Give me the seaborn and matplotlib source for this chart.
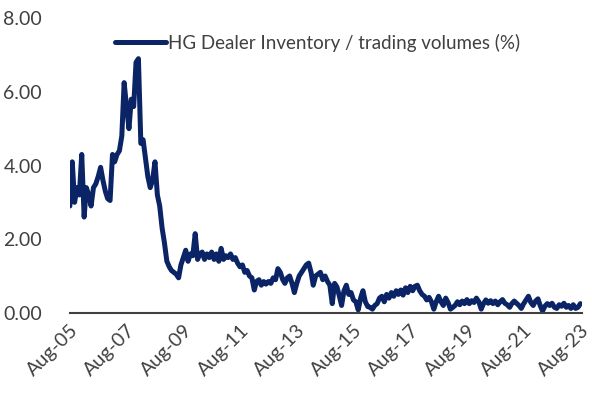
import pandas as pd
import matplotlib.pyplot as plt
import matplotlib.dates as mdates
import seaborn as sns

# monthly readings, Aug-05 .. Aug-23
ratio = [
    2.9, 4.1, 3.0, 3.4, 3.2, 4.3, 2.6, 3.4, 3.2, 2.9, 3.4, 3.5,
    3.7, 3.95, 3.6, 3.3, 3.1, 3.05, 4.3, 4.1, 4.3, 4.4, 4.8, 6.25,
    5.6, 5.0, 5.8, 5.6, 6.8, 6.9, 4.6, 4.7, 4.2, 3.7, 3.4, 3.6,
    4.1, 3.2, 2.9, 2.3, 1.9, 1.4, 1.25, 1.15, 1.1, 1.05, 0.95, 1.3,
    1.5, 1.7, 1.4, 1.6, 1.55, 2.15, 1.45, 1.6, 1.65, 1.45, 1.6, 1.5,
    1.65, 1.45, 1.6, 1.4, 1.75, 1.45, 1.55, 1.5, 1.6, 1.45, 1.5, 1.35,
    1.25, 1.3, 1.1, 1.15, 1.0, 0.95, 0.62, 0.85, 0.9, 0.75, 0.85, 0.78,
    0.85, 0.8, 0.95, 0.9, 1.2, 1.1, 0.9, 0.8, 0.95, 1.0, 0.8, 0.55,
    0.8, 1.0, 1.1, 1.2, 1.3, 1.35, 1.1, 0.75, 1.0, 1.05, 1.1, 0.9,
    1.0, 0.85, 0.75, 0.25, 0.8, 0.7, 0.45, 0.2, 0.6, 0.75, 0.5, 0.55,
    0.35, 0.3, 0.08, 0.4, 0.6, 0.3, 0.17, 0.15, 0.1, 0.2, 0.25, 0.4,
    0.45, 0.3, 0.5, 0.4, 0.55, 0.45, 0.6, 0.5, 0.62, 0.48, 0.68, 0.55,
    0.72, 0.6, 0.72, 0.75, 0.6, 0.5, 0.45, 0.35, 0.42, 0.3, 0.1, 0.3,
    0.45, 0.3, 0.2, 0.4, 0.28, 0.1, 0.15, 0.2, 0.3, 0.22, 0.32, 0.25,
    0.36, 0.25, 0.33, 0.28, 0.4, 0.3, 0.1, 0.25, 0.35, 0.26, 0.33, 0.25,
    0.32, 0.22, 0.3, 0.36, 0.26, 0.22, 0.15, 0.25, 0.32, 0.26, 0.2, 0.12,
    0.25, 0.35, 0.45, 0.28, 0.2, 0.32, 0.38, 0.2, 0.05, 0.18, 0.25, 0.2,
    0.26, 0.15, 0.12, 0.22, 0.18, 0.26, 0.15, 0.2, 0.12, 0.22, 0.12, 0.15, 0.25,
]
dates = pd.date_range('2005-08-01', periods=len(ratio), freq='MS')
tick_dates = pd.to_datetime([f'{y}-08-01' for y in range(2005, 2024, 2)])
y_ticks = [0, 2, 4, 6, 8]
label = 'HG Dealer Inventory / trading volumes (%)'

df = pd.DataFrame({'date': dates, 'ratio': ratio})

sns.set_style('white')
plt.rcParams['font.family'] = ['Lato', 'DejaVu Sans']

fig = plt.figure(figsize=(5.92, 3.95), dpi=100)
ax = fig.add_axes([0.118, 0.208, 0.865, 0.746])
sns.lineplot(data=df, x='date', y='ratio', color='#0b2466', linewidth=3.6,
             label=label, ax=ax)

ax.set_ylim(0, 8)
ax.set_yticks(y_ticks)
ax.set_yticklabels([f'{v:.2f}' for v in y_ticks])
ax.set_xlim(dates[0], dates[-1] + pd.Timedelta(days=20))
ax.set_xticks(tick_dates)
ax.xaxis.set_major_formatter(mdates.DateFormatter('%b-%y'))
plt.setp(ax.get_xticklabels(), rotation=45, ha='right', rotation_mode='anchor')
ax.tick_params(axis='both', labelsize=14, colors='#404040', length=0)
ax.tick_params(axis='y', pad=20)
ax.tick_params(axis='x', pad=6)
ax.set_xlabel('')
ax.set_ylabel('')

for s in ['left', 'right', 'top']:
    ax.spines[s].set_visible(False)
ax.spines['bottom'].set_color('#404040')
ax.spines['bottom'].set_linewidth(1.5)

leg = ax.legend(loc='upper left', bbox_to_anchor=(0.055, 1.005), frameon=False,
                fontsize=13.5, handlelength=2.7, handletextpad=0.15)
for t in leg.get_texts():
    t.set_color('#404040')

fig.savefig('out.png', dpi=100)
